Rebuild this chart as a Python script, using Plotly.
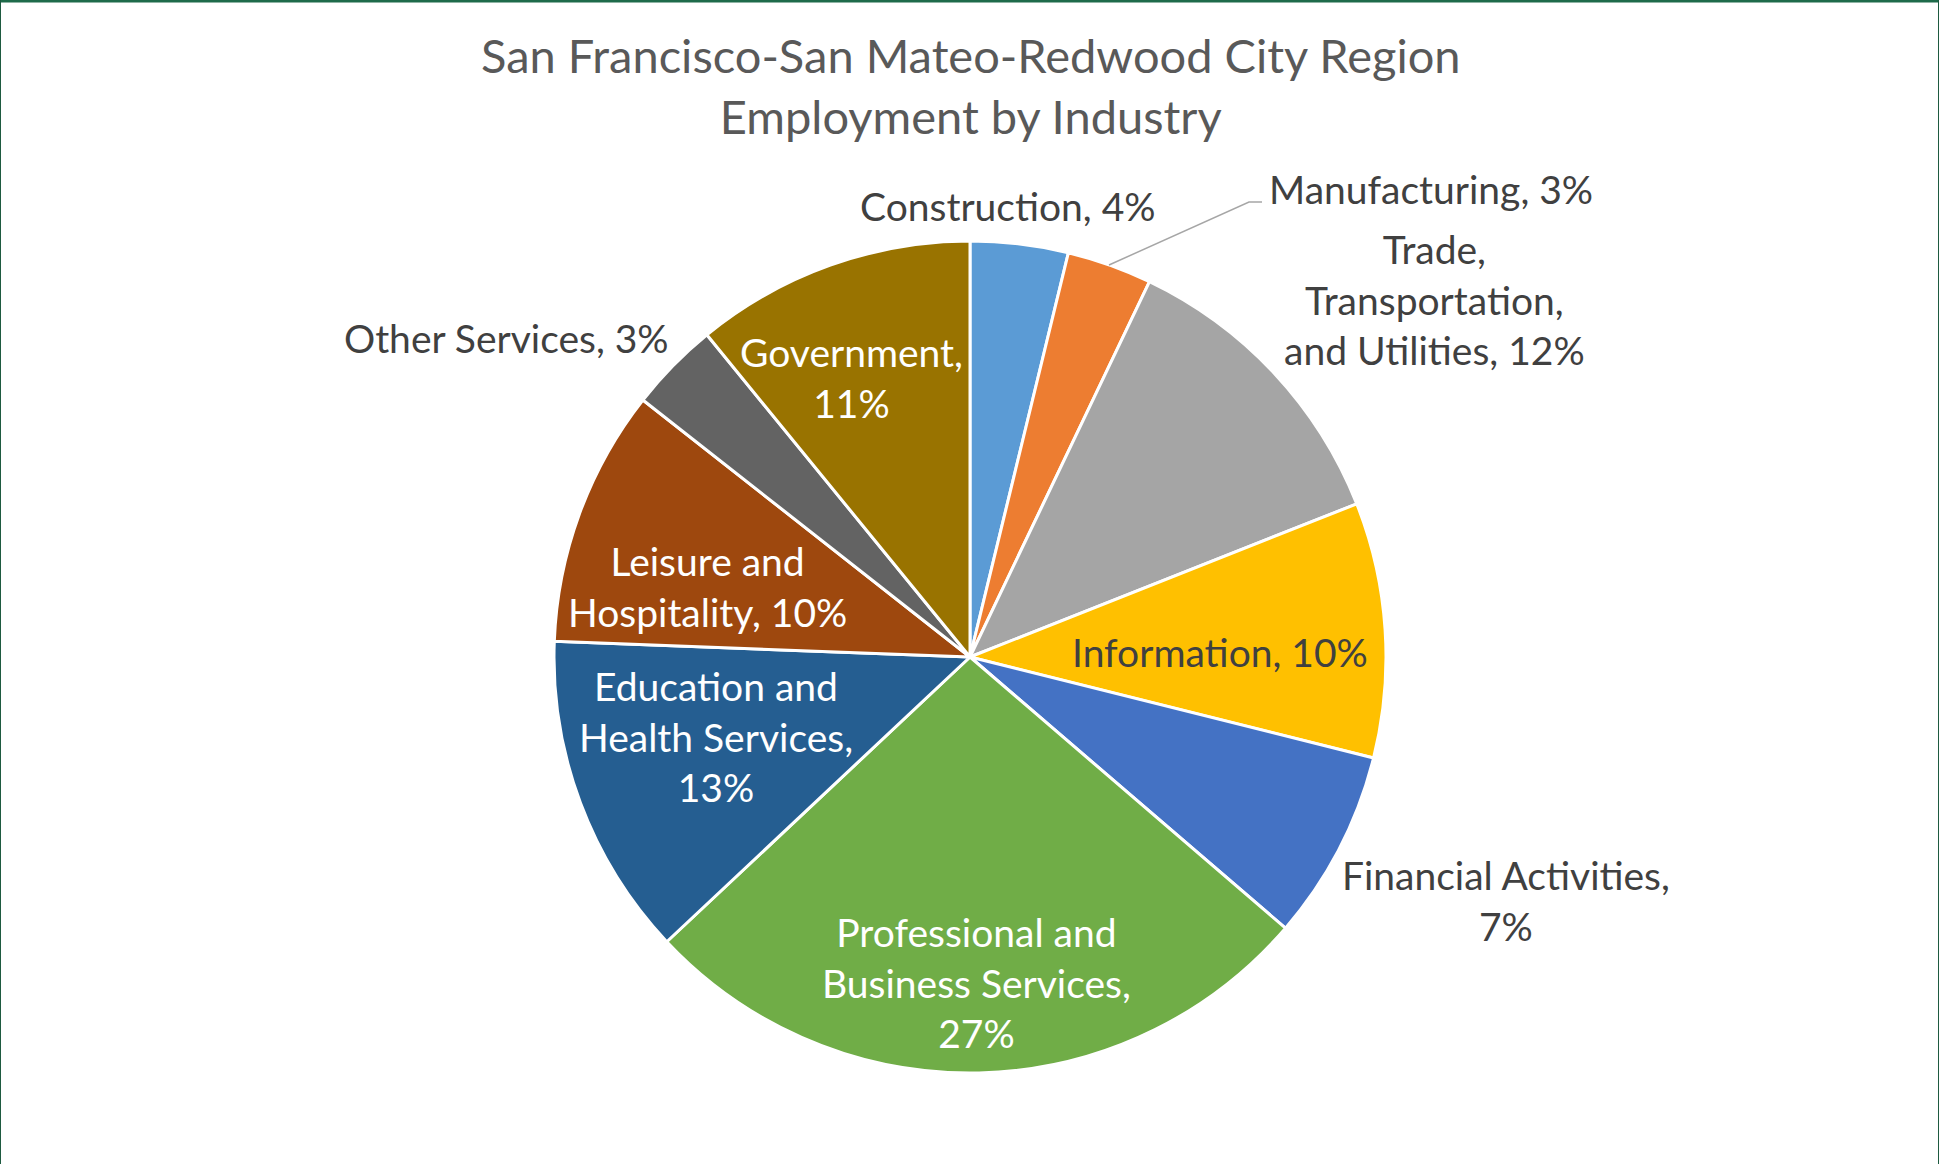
import plotly.graph_objects as go

# ---- data ----
industries = [
    "Construction", "Manufacturing", "Trade, Transportation, and Utilities",
    "Information", "Financial Activities", "Professional and Business Services",
    "Education and Health Services", "Leisure and Hospitality",
    "Other Services", "Government",
]
# slice shares
shares = [3.8, 3.3, 11.9, 9.9, 7.4, 26.7, 12.6, 10.0, 3.5, 10.9]
# percentages as printed in the data labels
label_pct = [4, 3, 12, 10, 7, 27, 13, 10, 3, 11]
colors = ["#5B9BD5", "#ED7D31", "#A5A5A5", "#FFC000", "#4472C4",
          "#70AD47", "#255E91", "#9E480E", "#636363", "#997300"]

W, H = 1939, 1164
FONT = "Lato"
DARK = "#404040"
CX, CY, R = 970, 657, 416

fig = go.Figure(go.Pie(
    labels=industries, values=shares, sort=False, direction="clockwise",
    rotation=0, textinfo="none", hoverinfo="label+percent",
    marker=dict(colors=colors, line=dict(color="white", width=3)),
    domain=dict(x=[(CX - R) / W, (CX + R) / W],
                y=[(H - CY - R) / H, (H - CY + R) / H]),
    showlegend=False,
))

# label layout: (line-broken name, x px, y px of text center, colour)
label_layout = [
    ("{n}, {p}%", 1008, 206, DARK),
    ("{n}, {p}%", 1431, 189, DARK),
    ("Trade,<br>Transportation,<br>and Utilities, {p}%", 1434, 300, DARK),
    ("{n}, {p}%", 1220, 652, DARK),
    ("Financial Activities,<br>{p}%", 1506, 900, DARK),
    ("Professional and<br>Business Services,<br>{p}%", 977, 982, "white"),
    ("Education and<br>Health Services,<br>{p}%", 716, 736, "white"),
    ("Leisure and<br>Hospitality, {p}%", 707, 586, "white"),
    ("{n}, {p}%", 507, 338, DARK),
    ("Government,<br>{p}%", 851, 378, "white"),
]

annotations = []
for name, pct, (tmpl, x, y, col) in zip(industries, label_pct, label_layout):
    annotations.append(dict(
        text=tmpl.format(n=name, p=pct), x=x / W, y=1 - y / H,
        xref="paper", yref="paper", showarrow=False, align="center",
        xanchor="center", yanchor="middle",
        font=dict(family=FONT, size=39, color=col),
    ))

# title
annotations.append(dict(
    text="San Francisco-San Mateo-Redwood City Region<br>Employment by Industry",
    x=971 / W, y=1 - 86 / H, xref="paper", yref="paper", showarrow=False,
    xanchor="center", yanchor="middle", align="center",
    font=dict(family=FONT, size=47, color="#595959"),
))

shapes = [
    # manufacturing leader line
    dict(type="path", xref="paper", yref="paper",
         path=f"M {1109/W},{1-265/H} L {1249/W},{1-202/H} L {1262/W},{1-202/H}",
         line=dict(color="#A6A6A6", width=1.5)),
    # chart border
    dict(type="line", xref="paper", yref="paper", x0=0, x1=1, y0=1, y1=1,
         line=dict(color="#1E6B4A", width=5)),
    dict(type="line", xref="paper", yref="paper", x0=0, x1=0, y0=0, y1=1,
         line=dict(color="#1E5A40", width=2)),
    dict(type="line", xref="paper", yref="paper", x0=1, x1=1, y0=0, y1=1,
         line=dict(color="#1E5A40", width=2)),
]

fig.update_layout(
    width=W, height=H, margin=dict(l=0, r=0, t=0, b=0),
    paper_bgcolor="white", plot_bgcolor="white",
    annotations=annotations, shapes=shapes,
)

fig.write_html(
    "out.html",
    config={"displayModeBar": False},
    post_script="document.body.style.margin='0';document.body.style.overflow='hidden';",
)
